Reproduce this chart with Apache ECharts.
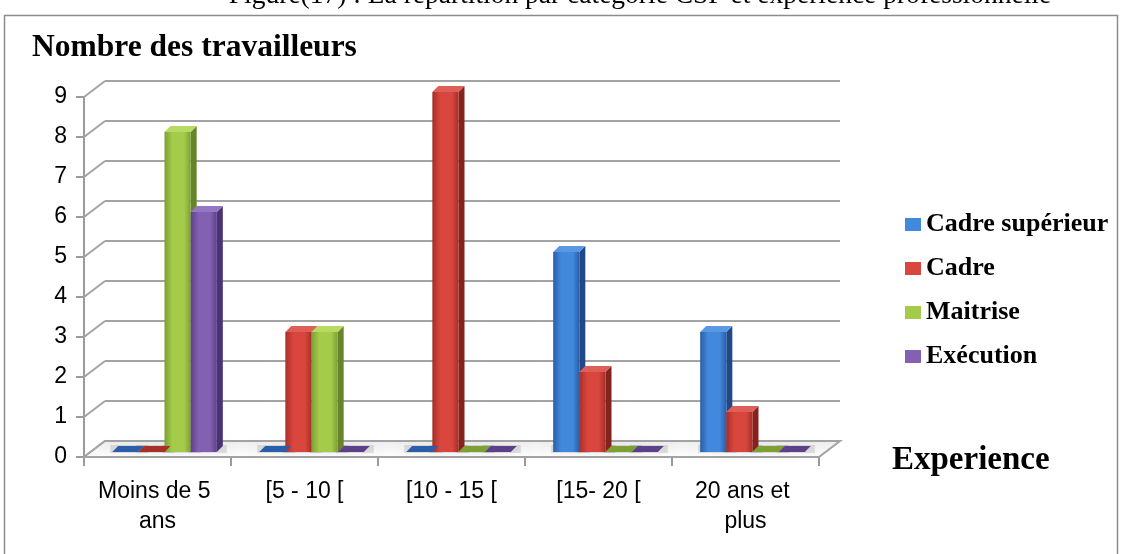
<!DOCTYPE html>
<html>
<head>
<meta charset="utf-8">
<script src="https://cdn.jsdelivr.net/npm/echarts@6/dist/echarts.min.js"></script>
<style>
  html, body { margin: 0; padding: 0; background: #fff; }
  #chart { width: 1121px; height: 554px; }
</style>
</head>
<body>
<div id="chart"></div>
<script>
// Experience bands (x axis)
const categories = ['Moins de 5 ans', '[5 - 10 [', '[10 - 15 [', '[15- 20 [', '20 ans et plus'];
// CSP categories (series)
const seriesNames = ['Cadre supérieur', 'Cadre', 'Maitrise', 'Exécution'];
// Number of workers per experience band
const cadreSuperieur = [0, 0, 0, 5, 3];
const cadre = [0, 3, 9, 2, 1];
const maitrise = [8, 3, 0, 0, 0];
const execution = [6, 0, 0, 0, 0];
// Value axis ticks
const yTicks = [0, 1, 2, 3, 4, 5, 6, 7, 8, 9];

const seriesValues = [cadreSuperieur, cadre, maitrise, execution];

// Face colours for the pseudo-3D columns: [front-light, front-dark, side, top]
const palette = [
  ['#4288dc', '#2a5ea8', '#21498a', '#5a98e2'],
  ['#d8463e', '#a82e28', '#86221e', '#de5e58'],
  ['#a4cc4a', '#7ca032', '#66852a', '#b6da62'],
  ['#8260b2', '#5d408a', '#4b3273', '#9476c2']
];

// Depth offsets (pixels) between back wall, column plane and front plane
const FRONT_DX = -21, FRONT_DY = 16;   // back wall -> front edge
const BAR_DX = -14, BAR_DY = 11;       // back wall -> column plane
const SIDE_DX = 6, SIDE_DY = -6;       // column depth

const chart = echarts.init(document.getElementById('chart'), null, { renderer: 'canvas' });

function barRenderer(s) {
  const col = palette[s];
  return function (params, api) {
    const i = api.value(0);
    const v = api.value(1);
    const base = api.coord([i, 0]);
    const top = api.coord([i, v]);
    const band = api.size([1, 0])[0];
    const bw = band * 0.178;
    const xL = base[0] + BAR_DX - 2 * bw + s * bw;
    const xR = xL + bw;
    const yB = base[1] + BAR_DY;
    const yT = top[1] + BAR_DY;
    const children = [];
    // soft shadow on the floor
    children.push({
      type: 'rect',
      shape: { x: xL - 2, y: yB - 7, width: bw + 12, height: 8 },
      style: { fill: 'rgba(0,0,0,0.10)', shadowBlur: 8, shadowColor: 'rgba(0,0,0,0.25)' },
      z2: 0
    });
    if (v > 0) {
      children.push({
        type: 'polygon',
        shape: { points: [[xR, yT], [xR + SIDE_DX, yT + SIDE_DY], [xR + SIDE_DX, yB + SIDE_DY], [xR, yB]] },
        style: { fill: col[2] },
        z2: 1
      });
      children.push({
        type: 'rect',
        shape: { x: xL, y: yT, width: bw, height: yB - yT },
        style: {
          fill: new echarts.graphic.LinearGradient(0, 0, 1, 0, [
            { offset: 0, color: col[1] },
            { offset: 0.3, color: col[0] },
            { offset: 0.75, color: col[0] },
            { offset: 1, color: col[1] }
          ])
        },
        z2: 2
      });
    }
    children.push({
      type: 'polygon',
      shape: { points: [[xL, yT], [xL + SIDE_DX, yT + SIDE_DY], [xR + SIDE_DX, yT + SIDE_DY], [xR, yT]] },
      style: { fill: v > 0 ? col[3] : col[1] },
      z2: 3
    });
    return { type: 'group', children: children };
  };
}

// Side wall diagonals and the floor plate
function frameRenderer(params, api) {
  const v = api.value(1);
  const band = api.size([1, 0])[0];
  const p = api.coord([0, v]);
  const xLeft = p[0] - band / 2;
  const children = [{
    type: 'line',
    shape: { x1: xLeft, y1: p[1], x2: xLeft + FRONT_DX, y2: p[1] + FRONT_DY },
    style: { stroke: '#a3a3a3', lineWidth: 2 }
  }];
  if (v === 0) {
    const pr = api.coord([categories.length - 1, 0]);
    const xRight = pr[0] + band / 2;
    children.push({
      type: 'polygon',
      shape: { points: [[xLeft, p[1]], [xRight, p[1]], [xRight + FRONT_DX, p[1] + FRONT_DY], [xLeft + FRONT_DX, p[1] + FRONT_DY]] },
      style: {
        fill: new echarts.graphic.LinearGradient(0, 0, 0, 1, [
          { offset: 0, color: '#ececec' },
          { offset: 1, color: '#ffffff' }
        ]),
        stroke: '#a3a3a3',
        lineWidth: 2
      }
    });
  }
  return { type: 'group', children: children };
}

const series = [{
  type: 'custom',
  name: 'frame',
  xAxisIndex: 0,
  yAxisIndex: 0,
  silent: true,
  z: 1,
  renderItem: frameRenderer,
  data: yTicks.map(t => [0, t])
}];
seriesNames.forEach((name, s) => {
  series.push({
    type: 'custom',
    name: name,
    xAxisIndex: 0,
    yAxisIndex: 0,
    z: 3,
    itemStyle: { color: palette[s][0] },
    renderItem: barRenderer(s),
    data: categories.map((c, i) => [i, seriesValues[s][i]])
  });
});

const serifBold = { fontFamily: 'Liberation Serif', fontWeight: 'bold', color: '#000' };
const axisFont = { fontFamily: 'Liberation Sans', fontSize: 23, color: '#000' };

const option = {
  backgroundColor: '#ffffff',
  animation: false,
  title: [
    { text: 'Nombre des travailleurs', left: 27, top: 27, textStyle: Object.assign({ fontSize: 31.5 }, serifBold) },
    { text: 'Experience', left: 887, top: 439, textStyle: Object.assign({ fontSize: 33 }, serifBold) }
  ],
  legend: {
    orient: 'vertical',
    left: 900,
    top: 206,
    itemWidth: 16,
    itemHeight: 13,
    itemGap: 17,
    icon: 'rect',
    data: seriesNames,
    textStyle: Object.assign({ fontSize: 26, lineHeight: 27 }, serifBold)
  },
  graphic: [
    {
      type: 'rect',
      z: -10,
      shape: { x: 4.5, y: 15.5, width: 1113, height: 560 },
      style: { fill: 'none', stroke: '#8c8c8c', lineWidth: 1.5 }
    },
    {
      type: 'text',
      x: 640,
      y: 10,
      style: {
        text: 'Figure(17) : La répartition par catégorie CSP et expérience professionnelle',
        fill: '#000',
        fontFamily: 'Liberation Serif',
        fontSize: 27.5,
        align: 'center',
        verticalAlign: 'bottom'
      }
    }
  ],
  grid: [
    // back wall
    { left: 105, top: 81, width: 735, height: 360 },
    // front plane (axes, ticks, labels)
    { left: 84, top: 97, width: 735, height: 360 }
  ],
  xAxis: [
    {
      type: 'category', gridIndex: 0, data: categories,
      axisLine: { show: false }, axisTick: { show: false }, axisLabel: { show: false }
    },
    {
      type: 'category', gridIndex: 1, data: categories,
      axisLine: { show: true, lineStyle: { color: '#9a9a9a', width: 2 } },
      axisTick: { show: true, length: 9, interval: 0, lineStyle: { color: '#9a9a9a', width: 2 } },
      axisLabel: Object.assign({ interval: 0, margin: 20, lineHeight: 30, width: 124, overflow: 'break' }, axisFont)
    }
  ],
  yAxis: [
    {
      type: 'value', gridIndex: 0, min: 0, max: 9, interval: 1,
      axisLine: { show: false }, axisTick: { show: false }, axisLabel: { show: false },
      splitLine: { show: true, lineStyle: { color: '#a3a3a3', width: 2 } }
    },
    {
      type: 'value', gridIndex: 1, min: 0, max: 9, interval: 1,
      axisLine: { show: true, lineStyle: { color: '#9a9a9a', width: 2 } },
      axisTick: { show: true, length: 8, lineStyle: { color: '#9a9a9a', width: 2 } },
      axisLabel: Object.assign({ margin: 17, formatter: (val) => String(val) }, axisFont),
      splitLine: { show: false }
    }
  ],
  series: series
};

chart.setOption(option);
</script>
</body>
</html>
